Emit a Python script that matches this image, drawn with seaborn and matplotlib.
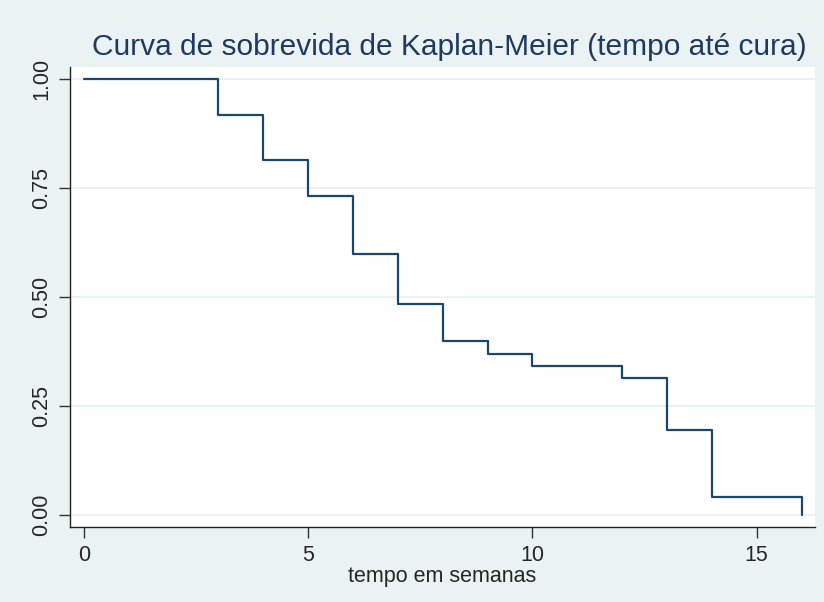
import matplotlib
matplotlib.use("Agg")
import matplotlib.pyplot as plt
import seaborn as sns
import pandas as pd

# Kaplan-Meier step data (time in weeks, survival)
tempo = [0, 3, 4, 5, 6, 7, 8, 9, 10, 12, 13, 14, 16]
sobrevida = [1.0, 0.918, 0.814, 0.732, 0.598, 0.483, 0.399, 0.370, 0.341, 0.313, 0.195, 0.040, 0.0]
x_ticks = [0, 5, 10, 15]
y_ticks = [0.0, 0.25, 0.5, 0.75, 1.0]
y_labels = ["0.00", "0.25", "0.50", "0.75", "1.00"]

titulo = "Curva de sobrevida de Kaplan-Meier (tempo até cura)"
xlabel = "tempo em semanas"

df = pd.DataFrame({"tempo": tempo, "sobrevida": sobrevida})

sns.set_theme(style="white")
plt.rcParams["font.family"] = ["Liberation Sans", "DejaVu Sans"]

bg = "#EAF2F3"
navy = "#1A476F"

fig = plt.figure(figsize=(8.24, 6.02), dpi=100, facecolor=bg)
ax = fig.add_axes([70/824, 1 - 527/602, (815 - 70)/824, (527 - 67)/602])
ax.set_facecolor("white")

for yt in y_ticks:
    ax.axhline(yt, color=bg, lw=1.5, zorder=0)

sns.lineplot(data=df, x="tempo", y="sobrevida", drawstyle="steps-post",
             color=navy, lw=1.6, ax=ax, estimator=None)

ax.set_xlim(-0.31, 16.3)
ax.set_ylim(-0.028, 1.028)
ax.set_xticks(x_ticks)
ax.set_xticklabels([str(t) for t in x_ticks], fontsize=15.5)
ax.set_yticks(y_ticks)
ax.set_yticklabels(y_labels, fontsize=15.5, rotation=90, va="center")
ax.tick_params(axis="both", direction="out", length=8, width=1, color="#333333",
               bottom=True, left=True, pad=5)
ax.set_xlabel(xlabel, fontsize=15.5, labelpad=0)
ax.set_ylabel("")

for s in ["top", "right"]:
    ax.spines[s].set_visible(False)
for s in ["left", "bottom"]:
    ax.spines[s].set_color("#222222")
    ax.spines[s].set_linewidth(1.0)

fig.text((93 + 806) / 2 / 824, 1 - 47/602, titulo, ha="center", va="center",
         fontsize=21.5, color="#1E3A5F")

fig.savefig("out.png", dpi=100, facecolor=bg)
